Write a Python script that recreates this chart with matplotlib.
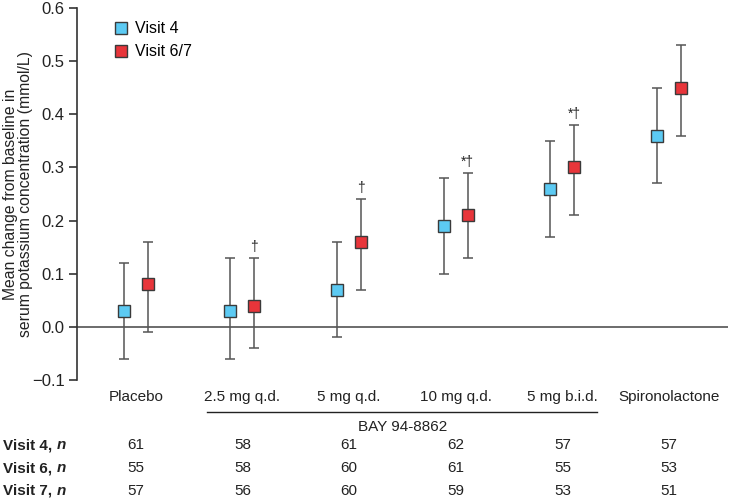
import numpy as np
import matplotlib
matplotlib.use('Agg')
import matplotlib.pyplot as plt
from matplotlib.lines import Line2D
from matplotlib.transforms import blended_transform_factory

plt.rcParams['font.family'] = ['Liberation Sans', 'DejaVu Sans']

# 数据
groups = ['Placebo', '2.5 mg q.d.', '5 mg q.d.', '10 mg q.d.', '5 mg b.i.d.', 'Spironolactone']
v4_mean = [0.03, 0.03, 0.07, 0.19, 0.26, 0.36]
v4_low = [-0.06, -0.06, -0.02, 0.10, 0.17, 0.27]
v4_high = [0.12, 0.13, 0.16, 0.28, 0.35, 0.45]
v67_mean = [0.08, 0.04, 0.16, 0.21, 0.30, 0.45]
v67_low = [-0.01, -0.04, 0.07, 0.13, 0.21, 0.36]
v67_high = [0.16, 0.13, 0.24, 0.29, 0.38, 0.53]
v67_marks = ['', '\u2020', '\u2020', '*\u2020', '*\u2020', '']
n_labels = ['Visit 4, ', 'Visit 6, ', 'Visit 7, ']
n_visit4 = [61, 58, 61, 62, 57, 57]
n_visit6 = [55, 58, 60, 61, 55, 53]
n_visit7 = [57, 56, 60, 59, 53, 51]

blue = '#5ccaf3'
red = '#e8353a'
edge = '#3a3a3a'
bar_c = '#555555'

fig = plt.figure(figsize=(7.3, 5.01), dpi=100)
ax = fig.add_axes([0.1055, 0.2415, 0.8915, 0.7425])

x = np.arange(len(groups))
off = 0.112

def draw(xs, mean, low, high, color):
    mean = np.array(mean)
    yerr = [mean - np.array(low), np.array(high) - mean]
    ax.errorbar(xs, mean, yerr=yerr, fmt='none', ecolor=bar_c, elinewidth=1.1,
                capsize=3.5, capthick=1.1, zorder=2)
    ax.plot(xs, mean, 's', ms=9, mfc=color, mec=edge, mew=1.0, ls='none', zorder=3)

draw(x - off, v4_mean, v4_low, v4_high, blue)
draw(x + off, v67_mean, v67_low, v67_high, red)

# 显著性标记
for xi, hi, m in zip(x + off, v67_high, v67_marks):
    if m:
        ax.annotate(m, (xi, hi), xytext=(0, 3), textcoords='offset points',
                    ha='center', va='bottom', fontsize=10, color='#222222')

ax.axhline(0, color='#444444', lw=1.1, zorder=1)
ax.set_xlim(-0.55, 5.55)
ax.set_ylim(-0.1, 0.6)
ax.set_yticks(np.arange(-0.1, 0.61, 0.1))
ax.set_yticklabels(['\u22120.1' if v < -0.05 else f'{v:.1f}' for v in np.arange(-0.1, 0.61, 0.1)])
ax.set_xticks([])
for s in ['top', 'right', 'bottom']:
    ax.spines[s].set_visible(False)
ax.spines['left'].set_color('#333333')
ax.spines['left'].set_linewidth(1.2)
ax.tick_params(axis='y', direction='out', length=6, width=1.2, color='#333333',
               labelsize=12, labelcolor='#222222', pad=3)
ax.set_ylabel('Mean change from baseline in\nserum potassium concentration (mmol/L)',
              fontsize=11.3, color='#222222', linespacing=1.0)
ax.yaxis.set_label_coords(-0.0676, 0.5)

handles = [Line2D([], [], marker='s', ls='none', ms=9, mfc=blue, mec=edge, label='Visit 4'),
           Line2D([], [], marker='s', ls='none', ms=9, mfc=red, mec=edge, label='Visit 6/7')]
ax.legend(handles=handles, loc='upper left', bbox_to_anchor=(0.033, 1.003), frameon=False,
          fontsize=11.5, handletextpad=0.4, labelspacing=0.5, handlelength=1.0)

trans = blended_transform_factory(ax.transData, ax.transAxes)
for xi, g in zip(x, groups):
    ax.text(xi, -0.046, g, transform=trans, ha='center', va='center', fontsize=11,
            color='#222222', clip_on=False)
ax.plot([x[1] - 0.33, x[4] + 0.32], [-0.086, -0.086], transform=trans, color='#222222',
        lw=1.0, clip_on=False)
ax.text((x[1] + x[4]) / 2, -0.126, 'BAY 94-8862', transform=trans, ha='center', va='center',
        fontsize=11, color='#222222', clip_on=False)

# n 表
rows = [n_visit4, n_visit6, n_visit7]
row_y = [-0.175, -0.237, -0.298]
ftrans = blended_transform_factory(fig.transFigure, ax.transAxes)
for lab, vals, yy in zip(n_labels, rows, row_y):
    t = ax.text(0.004, yy, lab, transform=ftrans, ha='left', va='center', fontsize=11,
                fontweight='bold', color='#222222', clip_on=False)
    ax.annotate('n', xy=(1, 0.5), xycoords=t, ha='left', va='center', fontsize=11,
                fontweight='bold', fontstyle='italic', color='#222222')
    for xi, v in zip(x, vals):
        ax.text(xi, yy, str(v), transform=trans, ha='center', va='center', fontsize=11,
                color='#222222', clip_on=False)

fig.savefig('out.png', dpi=100)
